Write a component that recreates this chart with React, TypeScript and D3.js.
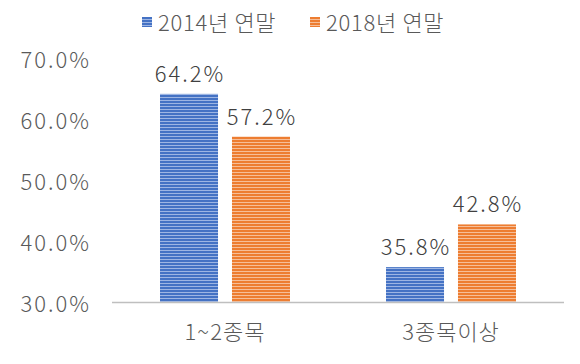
import React, { useEffect, useRef } from "react";
import * as d3 from "d3";

const categories = ["1~2종목", "3종목이상"];
const seriesNames = ["2014년 연말", "2018년 연말"];
const values2014 = [64.2, 35.8];
const values2018 = [57.2, 42.8];
const yTicks = [30, 40, 50, 60, 70];

const colors = ["#4472C4", "#ED7D31"];
const lightColors = ["#9DB5E3", "#F6BE98"];

const W = 580;
const H = 364;
const FONT = "'Noto Sans CJK KR', 'Noto Sans', sans-serif";

export default function App() {
  const ref = useRef<SVGSVGElement>(null);

  useEffect(() => {
    const svg = d3.select(ref.current);
    svg.selectAll("*").remove();

    const defs = svg.append("defs");
    colors.forEach((c, i) => {
      const p = defs
        .append("pattern")
        .attr("id", "stripe" + i)
        .attr("patternUnits", "userSpaceOnUse")
        .attr("width", 6)
        .attr("height", 3);
      p.append("rect").attr("width", 6).attr("height", 3).attr("fill", c);
      p.append("rect").attr("y", 1).attr("width", 6).attr("height", 1).attr("fill", lightColors[i]);
    });

    const x = d3.scaleBand().domain(categories).range([112, 564]);
    const inner = d3
      .scaleBand()
      .domain(seriesNames)
      .range([0, x.bandwidth()])
      .paddingInner(0.194)
      .paddingOuter(0.667);
    const y = d3.scaleLinear().domain([30, 70]).range([302.5, 58.5]);

    const g = svg
      .append("g")
      .style("font-family", FONT)
      .style("font-weight", 300);

    // y tick labels
    g.selectAll("text.ytick")
      .data(yTicks)
      .join("text")
      .attr("class", "ytick")
      .attr("x", 91)
      .attr("y", (d) => y(d) + 2)
      .attr("dy", "0.36em")
      .attr("text-anchor", "end")
      .attr("fill", "#595959")
      .style("font-size", "22px")
      .style("letter-spacing", "2px")
      .text((d) => d.toFixed(1) + "%");

    const series = [values2014, values2018];
    series.forEach((vals, si) => {
      const bars = g
        .append("g")
        .selectAll("g")
        .data(categories.map((c, ci) => ({ c, v: vals[ci] })))
        .join("g");
      bars
        .append("rect")
        .attr("x", (d) => (x(d.c) ?? 0) + (inner(seriesNames[si]) ?? 0))
        .attr("y", (d) => y(d.v))
        .attr("width", inner.bandwidth())
        .attr("height", (d) => y(30) - y(d.v))
        .attr("fill", `url(#stripe${si})`);
      bars
        .append("text")
        .attr("x", (d) => (x(d.c) ?? 0) + (inner(seriesNames[si]) ?? 0) + inner.bandwidth() / 2 + 1)
        .attr("y", (d) => y(d.v) - 12)
        .attr("text-anchor", "middle")
        .attr("fill", "#404040")
        .style("font-size", "22px")
        .style("letter-spacing", "2px")
        .text((d) => d.v.toFixed(1) + "%");
    });

    // axis line
    g.append("line")
      .attr("x1", 112)
      .attr("x2", 564)
      .attr("y1", y(30))
      .attr("y2", y(30))
      .attr("stroke", "#BFBFBF")
      .attr("stroke-width", 1.5);

    // category labels
    g.selectAll("text.cat")
      .data(categories)
      .join("text")
      .attr("class", "cat")
      .attr("x", (d) => (x(d) ?? 0) + x.bandwidth() / 2)
      .attr("y", 340)
      .attr("text-anchor", "middle")
      .attr("fill", "#595959")
      .style("font-size", "22px")
      .style("letter-spacing", "1px")
      .text((d) => d);

    // legend
    const legX = [142, 310];
    seriesNames.forEach((n, i) => {
      g.append("rect")
        .attr("x", legX[i])
        .attr("y", 17)
        .attr("width", 10)
        .attr("height", 10)
        .attr("fill", `url(#stripe${i})`);
      g.append("text")
        .attr("x", legX[i] + 16)
        .attr("y", 31)
        .attr("fill", "#595959")
        .style("font-size", "22px")
        .style("letter-spacing", "0.7px")
        .text(n);
    });
  }, []);

  return (
    <svg
      ref={ref}
      width={W}
      height={H}
      style={{ position: "absolute", left: 0, top: 0, background: "#fff" }}
    />
  );
}
